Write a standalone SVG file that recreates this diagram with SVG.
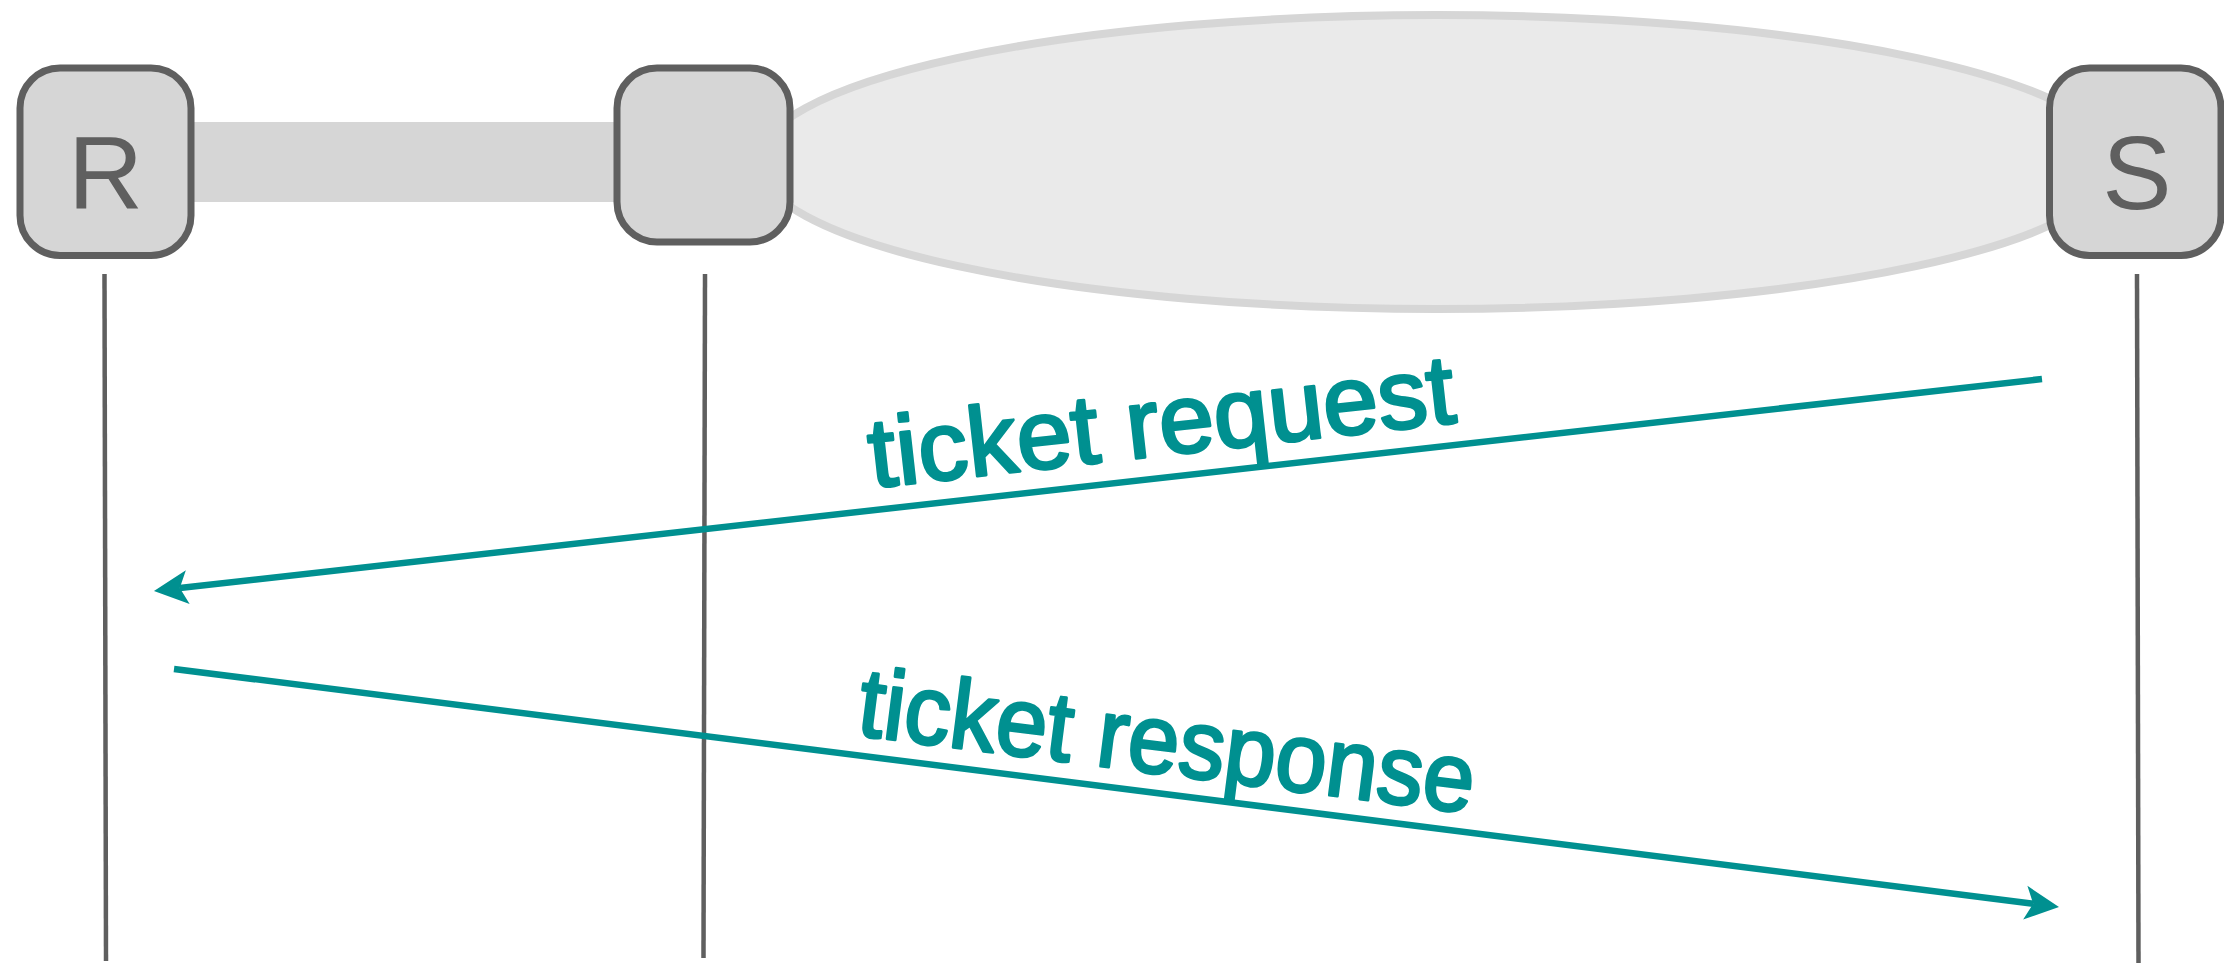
<svg xmlns="http://www.w3.org/2000/svg" width="2224" height="963" viewBox="0 0 2224 963">
  <style>
    .box { fill: #d6d6d6; stroke: #5f5f5f; stroke-width: 7; }
    .lbl { font-family: "Liberation Sans", Arial, sans-serif; font-size: 104px; fill: #5f5f5f; text-anchor: middle; }
    .life { stroke: #5f5f5f; stroke-width: 4.5; fill: none; }
    .msg { stroke: #009090; stroke-width: 6.5; fill: none; marker-end: url(#arrow); }
    .msglbl { font-family: "Liberation Sans", Arial, sans-serif; font-size: 98px; fill: #009090; stroke: #009090; stroke-width: 3; stroke-linejoin: round; text-anchor: middle; }
  </style>
  <defs>
    <marker id="arrow" markerUnits="userSpaceOnUse" viewBox="-36 -19 38 38" markerWidth="38" markerHeight="38" refX="-26" refY="0" orient="auto">
      <path d="M0,0 L-34,-17 L-26,0 L-34,17 Z" fill="#009090"/>
    </marker>
  </defs>
  <rect width="2224" height="963" fill="#ffffff"/>

  <g id="background">
    <rect x="185" y="122" width="440" height="80" fill="#d6d6d6"/>
    <ellipse cx="1437" cy="162" rx="679" ry="147" fill="#eaeaea" stroke="#d6d6d6" stroke-width="8"/>
  </g>

  <g id="lifelines">
    <line class="life" x1="104.5" y1="274" x2="106" y2="961"/>
    <line class="life" x1="705" y1="274" x2="703.5" y2="958"/>
    <line class="life" x1="2137" y1="274" x2="2138.5" y2="963"/>
  </g>

  <g id="node-R">
    <rect class="box" x="20" y="68" width="171" height="187.5" rx="40" ry="40"/>
    <text class="lbl" x="105.5" y="209">R</text>
  </g>
  <g id="node-M">
    <rect class="box" x="617" y="68" width="173" height="174" rx="40" ry="40"/>
  </g>
  <g id="node-S">
    <rect class="box" x="2049.5" y="68" width="171.5" height="187.5" rx="40" ry="40"/>
    <text class="lbl" x="2137" y="209">S</text>
  </g>

  <g id="connectors">
    <line class="msg" x1="2042" y1="379" x2="179.8" y2="588.1"/>
    <text class="msglbl" x="1165" y="455" textLength="589" lengthAdjust="spacingAndGlyphs" transform="rotate(-6.38 1165 455)">ticket request</text>
    <line class="msg" x1="174" y1="669" x2="2033.2" y2="903.7"/>
    <text class="msglbl" x="1163" y="774" textLength="620" lengthAdjust="spacingAndGlyphs" transform="rotate(7.25 1163 774)">ticket response</text>
  </g>
</svg>
